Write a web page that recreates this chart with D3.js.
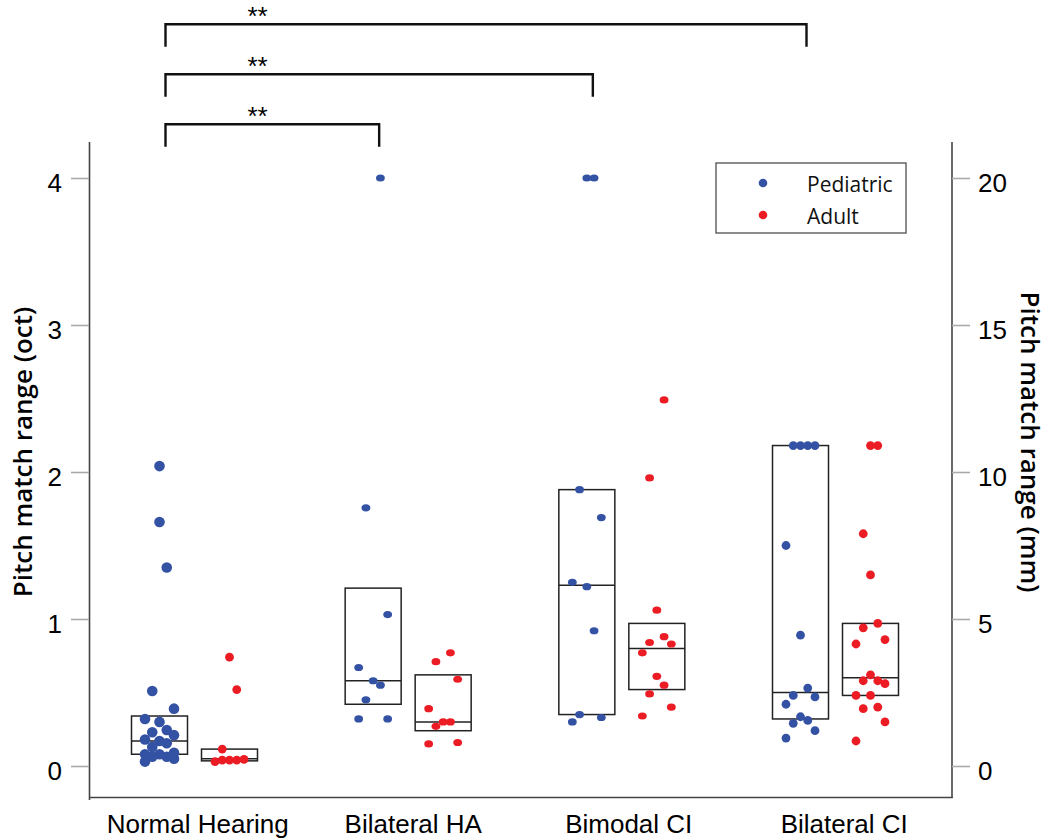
<!DOCTYPE html>
<html>
<head>
<meta charset="utf-8">
<script src="https://cdn.jsdelivr.net/npm/d3@7"></script>
<style>
  body { margin: 0; background: #fff; }
  svg { display: block; }
</style>
</head>
<body>
<script>
// ---------------- DATA ----------------
const categories = ["Normal Hearing", "Bilateral HA", "Bimodal CI", "Bilateral CI"];
const seriesNames = ["Pediatric", "Adult"];
const octTicks = [0, 1, 2, 3, 4];
const mmTicks = [0, 5, 10, 15, 20];

// pitch match range (oct), one array per category
const pediatricValues = [
  [2.04, 1.66, 1.35, 0.51, 0.39, 0.32, 0.30, 0.245, 0.23, 0.21, 0.18, 0.17, 0.155, 0.13, 0.09, 0.08, 0.08, 0.063, 0.063, 0.05, 0.03],
  [4.0, 1.756, 1.03, 0.67, 0.58, 0.55, 0.45, 0.32, 0.32],
  [4.0, 4.0, 1.88, 1.69, 1.25, 1.22, 0.92, 0.35, 0.33, 0.30],
  [2.18, 2.18, 2.18, 2.18, 1.50, 0.89, 0.53, 0.48, 0.47, 0.42, 0.335, 0.31, 0.29, 0.24, 0.19]
];
// jitter lane of each point (-2 .. 2)
const pediatricLanes = [
  [0, 0, 1, -1, 2, -2, 0, 1, -1, 2, -2, 0, 1, -1, 2, -2, 0, -1, 1, 2, -2],
  [1, -1, 2, -2, 0, 1, -1, -2, 2],
  [0, 1, -1, 2, -2, 0, 1, -1, 2, -2],
  [-1, 0, 1, 2, -2, 0, 1, -1, 2, -2, 0, 1, -1, 2, -2]
];
const adultValues = [
  [0.74, 0.52, 0.115, 0.03, 0.04, 0.04, 0.04, 0.045],
  [0.77, 0.71, 0.59, 0.39, 0.30, 0.30, 0.27, 0.15, 0.16],
  [2.49, 1.96, 1.06, 0.88, 0.84, 0.83, 0.77, 0.61, 0.55, 0.49, 0.40, 0.34],
  [2.18, 2.18, 1.58, 1.30, 0.97, 0.94, 0.86, 0.83, 0.62, 0.58, 0.58, 0.56, 0.48, 0.48, 0.39, 0.40, 0.30, 0.17]
];
const adultLanes = [
  [0, 1, -1, -2, -1, 0, 1, 2],
  [1, -1, 2, -2, 0, 1, -1, -2, 2],
  [1, -1, 0, 1, -1, 2, -2, 0, 1, -1, 2, -2],
  [0, 1, -1, 0, 1, -1, 2, -2, 0, -1, 1, 2, -2, 0, -1, 1, 2, -2]
];

// boxes: low edge, median, high edge (oct)
const pediatricBoxLow = [0.08, 0.42, 0.35, 0.32];
const pediatricBoxMedian = [0.17, 0.58, 1.23, 0.50];
const pediatricBoxHigh = [0.34, 1.21, 1.88, 2.18];
const adultBoxLow = [0.035, 0.24, 0.52, 0.48];
const adultBoxMedian = [0.05, 0.30, 0.80, 0.60];
const adultBoxHigh = [0.115, 0.62, 0.97, 0.97];

// significance brackets (pediatric groups)
const comparisonFrom = ["Normal Hearing", "Normal Hearing", "Normal Hearing"];
const comparisonTo = ["Bilateral HA", "Bimodal CI", "Bilateral CI"];
const comparisonLabel = ["**", "**", "**"];

// ---------------- STYLE / LAYOUT ----------------
const W = 1050, H = 840;
const colors = { Pediatric: "#3452a4", Adult: "#ec1c24" };
const dotSize = {
  "Normal Hearing": { Pediatric: [5.3, 5.3], Adult: [4.4, 4.4] },
  "Bilateral HA": { Pediatric: [4.4, 3.6], Adult: [4.4, 3.6] },
  "Bimodal CI": { Pediatric: [4.4, 3.6], Adult: [4.4, 3.6] },
  "Bilateral CI": { Pediatric: [4.4, 4.4], Adult: [4.4, 4.4] }
};
const axisColor = "#444";
const tickColor = "#aaa";
const numFont = "'Liberation Sans', Arial, sans-serif";
const humanFont = "'Open Sans', 'Noto Sans', sans-serif";

const svg = d3.select("body").append("svg").attr("width", W).attr("height", H);

const y = d3.scaleLinear().domain([0, 4]).range([766, 178]);
const yMm = d3.scaleLinear().domain([0, 20]).range([766, 178]);
const xLabel = d3.scaleBand().domain(categories).range([90, 952]);
const xGroup = d3.scalePoint().domain(categories).range([194.5, 835.5]);
const xSeries = d3.scalePoint().domain(seriesNames).range([-35, 35]);
const xLane = d3.scaleLinear().domain([-2, 2]).range([-14.5, 14.5]);
const boxHalf = 28;

// ---------------- FRAME ----------------
const frame = svg.append("g").attr("stroke", axisColor).attr("stroke-width", 1.6).attr("fill", "none");
frame.append("line").attr("x1", 89.5).attr("x2", 89.5).attr("y1", 142).attr("y2", 800);
frame.append("line").attr("x1", 952).attr("x2", 952).attr("y1", 142).attr("y2", 798);
frame.append("line").attr("x1", 89).attr("x2", 952.8).attr("y1", 797.5).attr("y2", 797.5);

// left axis
const gl = svg.append("g").attr("transform", "translate(89,0)")
  .call(d3.axisLeft(y).tickValues(octTicks).tickSize(18).tickPadding(9).tickFormat(d3.format("d")));
gl.select(".domain").remove();
gl.selectAll(".tick line").attr("stroke", tickColor).attr("stroke-width", 1.6);
gl.selectAll(".tick text").attr("font-family", numFont).attr("font-size", 26).attr("fill", "#000").attr("dy", "0.5em");

// right axis
const gr = svg.append("g").attr("transform", "translate(952,0)")
  .call(d3.axisRight(yMm).tickValues(mmTicks).tickSize(18).tickPadding(8).tickFormat(d3.format("d")));
gr.select(".domain").remove();
gr.selectAll(".tick line").attr("stroke", tickColor).attr("stroke-width", 1.6);
gr.selectAll(".tick text").attr("font-family", numFont).attr("font-size", 26).attr("fill", "#000").attr("dy", "0.5em");

// bottom category labels
const gb = svg.append("g").attr("transform", "translate(0,797)")
  .call(d3.axisBottom(xLabel).tickSize(0).tickPadding(17.5));
gb.select(".domain").remove();
gb.selectAll(".tick text").attr("font-family", numFont).attr("font-size", 26).attr("fill", "#000");

// axis titles
svg.append("text")
  .attr("transform", "translate(22,452) rotate(-90)")
  .attr("text-anchor", "middle").attr("dominant-baseline", "central")
  .attr("font-family", humanFont).attr("font-weight", 600).attr("font-size", 26)
  .text("Pitch match range (oct)");
svg.append("text")
  .attr("transform", "translate(1031,442) rotate(90)")
  .attr("text-anchor", "middle").attr("dominant-baseline", "central")
  .attr("font-family", humanFont).attr("font-weight", 600).attr("font-size", 26)
  .text("Pitch match range (mm)");

// ---------------- BOXES ----------------
const boxes = [];
categories.forEach((c, i) => {
  boxes.push({ cat: c, s: "Pediatric", lo: pediatricBoxLow[i], med: pediatricBoxMedian[i], hi: pediatricBoxHigh[i] });
  boxes.push({ cat: c, s: "Adult", lo: adultBoxLow[i], med: adultBoxMedian[i], hi: adultBoxHigh[i] });
});
const bg = svg.append("g").attr("fill", "none").attr("stroke", "#222").attr("stroke-width", 1.5);
boxes.forEach(b => {
  const cx = xGroup(b.cat) + xSeries(b.s);
  bg.append("rect").attr("x", cx - boxHalf).attr("y", y(b.hi))
    .attr("width", boxHalf * 2).attr("height", y(b.lo) - y(b.hi));
  bg.append("line").attr("x1", cx - boxHalf).attr("x2", cx + boxHalf)
    .attr("y1", y(b.med)).attr("y2", y(b.med));
});

// ---------------- POINTS ----------------
const points = [];
categories.forEach((c, i) => {
  pediatricValues[i].forEach((v, j) => points.push({ cat: c, s: "Pediatric", v, lane: pediatricLanes[i][j] }));
  adultValues[i].forEach((v, j) => points.push({ cat: c, s: "Adult", v, lane: adultLanes[i][j] }));
});
svg.append("g").selectAll("ellipse").data(points).join("ellipse")
  .attr("cx", d => xGroup(d.cat) + xSeries(d.s) + xLane(d.lane))
  .attr("cy", d => y(d.v))
  .attr("rx", d => dotSize[d.cat][d.s][0])
  .attr("ry", d => dotSize[d.cat][d.s][1])
  .attr("fill", d => colors[d.s]);

// ---------------- BRACKETS ----------------
const bracketBase = 124.3, bracketStep = 50, bracketDrop = 22.5;
comparisonTo.forEach((to, i) => {
  const x1 = xGroup(comparisonFrom[i]) + xSeries("Pediatric") + 6;
  const x2 = xGroup(to) + xSeries("Pediatric") + 6;
  const yb = bracketBase - bracketStep * i;
  svg.append("path")
    .attr("d", `M${x1},${yb + bracketDrop}V${yb}H${x2}V${yb + bracketDrop}`)
    .attr("fill", "none").attr("stroke", "#111").attr("stroke-width", 2.4);
  svg.append("text").attr("x", x1 + 92).attr("y", yb + 0.5)
    .attr("text-anchor", "middle")
    .attr("font-family", numFont).attr("font-size", 26)
    .text(comparisonLabel[i]);
});

// ---------------- LEGEND ----------------
const lg = svg.append("g");
lg.append("rect").attr("x", 716).attr("y", 163).attr("width", 190).attr("height", 70)
  .attr("fill", "#fff").attr("stroke", "#666").attr("stroke-width", 1.5);
seriesNames.forEach((s, i) => {
  lg.append("circle").attr("cx", 763).attr("cy", 183 + 32 * i).attr("r", 4.3).attr("fill", colors[s]);
  lg.append("text").attr("x", 807).attr("y", 191.5 + 32 * i)
    .attr("font-family", humanFont).attr("font-size", 21).attr("fill", "#111").text(s);
});
</script>
</body>
</html>
